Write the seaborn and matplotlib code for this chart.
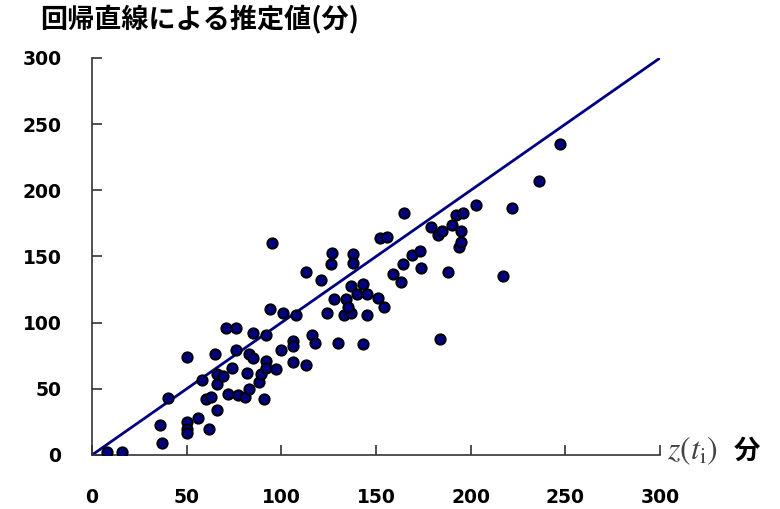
import matplotlib
matplotlib.use("Agg")
import matplotlib.pyplot as plt
import seaborn as sns
import pandas as pd

# observed z(t_i) (minutes) and regression estimate (minutes)
z_obs = [8, 16, 37, 36, 40, 50, 50, 50, 50, 56, 62, 58, 60, 63, 66, 65, 66, 66, 69, 74,
         71, 76, 72, 77, 76, 81, 82, 83, 83, 85, 85, 88, 89, 91, 92, 92, 92, 94, 95, 97,
         100, 101, 106, 106, 106, 108, 113, 113, 116, 118, 121, 124, 126, 127, 128, 130, 133, 137, 134, 135,
         137, 138, 138, 140, 143, 143, 145, 145, 151, 152, 156, 154, 159, 164, 163, 165, 169, 173, 174, 179,
         183, 185, 184, 188, 190, 192, 196, 195, 194, 195, 203, 222, 217, 236, 247]
est = [2, 2, 9, 23, 43, 74, 25, 20, 17, 28, 20, 57, 42, 44, 34, 76, 54, 61, 60, 66,
       96, 96, 46, 45, 79, 44, 62, 50, 76, 73, 92, 55, 61, 42, 71, 66, 91, 110, 160, 65,
       79, 107, 86, 82, 70, 106, 68, 138, 91, 85, 132, 107, 144, 153, 118, 85, 106, 107, 118, 112,
       128, 152, 145, 122, 129, 84, 122, 106, 119, 164, 165, 112, 137, 144, 131, 183, 151, 154, 141, 172,
       166, 169, 88, 138, 174, 181, 183, 169, 157, 161, 189, 187, 135, 207, 235]

# regression line (estimate = z)
line_x = [0, 300]
line_y = [0, 300]

x_ticks = [0, 50, 100, 150, 200, 250, 300]
y_ticks = [0, 50, 100, 150, 200, 250, 300]

title_text = "回帰直線による推定値(分)"
unit_text = "分"

sns.set_theme(style="white")
plt.rcParams["font.family"] = ["DejaVu Sans", "Noto Sans CJK JP"]
plt.rcParams["mathtext.fontset"] = "stix"

df = pd.DataFrame({"z": z_obs, "est": est})
lf = pd.DataFrame({"x": line_x, "y": line_y})

fig = plt.figure(figsize=(7.8, 5.09), dpi=100)
ax = fig.add_axes([92 / 780, 54 / 509, 568 / 780, 397 / 509])

sns.lineplot(data=lf, x="x", y="y", ax=ax, color="#000080", linewidth=2.0, zorder=2)
sns.scatterplot(data=df, x="z", y="est", ax=ax, s=55, color="#000080",
                edgecolor="black", linewidth=1.4, zorder=3)

ax.set_xlim(0, 300)
ax.set_ylim(0, 300)
ax.set_xticks(x_ticks)
ax.set_yticks(y_ticks)
ax.set_xticklabels([str(v) for v in x_ticks], fontsize=13.5, fontweight="bold", color="black")
ax.set_yticklabels([str(v) for v in y_ticks], fontsize=13.5, fontweight="bold", color="black")
ax.tick_params(axis="both", direction="in", length=7, width=1.2, color="#333333",
               bottom=True, left=True, top=False, right=False)
ax.tick_params(axis="x", pad=24)
ax.tick_params(axis="y", pad=22)
ax.set_xlabel("")
ax.set_ylabel("")

for s in ["top", "right"]:
    ax.spines[s].set_visible(False)
for s in ["left", "bottom"]:
    ax.spines[s].set_color("#333333")
    ax.spines[s].set_linewidth(1.2)

fig.text(40 / 780, 1 - 19 / 509, title_text, fontsize=19.5, fontweight="bold",
         family=["Noto Sans CJK JP"], ha="left", va="center", color="black")
fig.text(667 / 780, 1 - 451 / 509, r"$z(t_{\mathrm{i}})$", fontsize=23,
         color="#444444", ha="left", va="center")
fig.text(734 / 780, 1 - 451 / 509, unit_text, fontsize=19, fontweight="bold",
         family=["Noto Sans CJK JP"], ha="left", va="center", color="black")

fig.savefig("out.png", dpi=100)
